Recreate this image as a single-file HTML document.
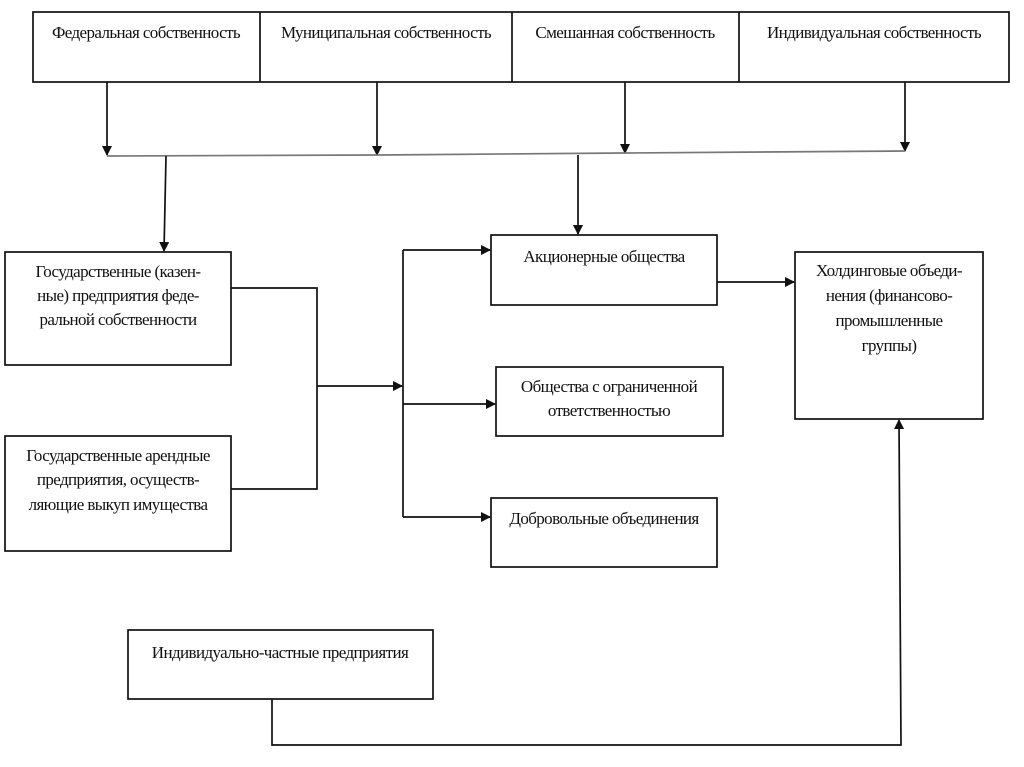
<!DOCTYPE html>
<html><head><meta charset="utf-8"><style>
html,body{margin:0;padding:0;background:#fff;width:1024px;height:767px;overflow:hidden}
svg text{font-family:"Liberation Serif",serif;font-size:17px;fill:#111;letter-spacing:-0.6px}
</style></head><body>
<svg width="1024" height="767" viewBox="0 0 1024 767" xmlns="http://www.w3.org/2000/svg">
<defs><marker id="a" markerWidth="10" markerHeight="10" refX="9" refY="5" orient="auto" markerUnits="userSpaceOnUse"><path d="M0,0 L10,5 L0,10 z" fill="#111"/></marker></defs>
<g fill="none" stroke="#111" stroke-width="1.7">
<rect x="33" y="12" width="976" height="70"/>
<line x1="260" y1="12" x2="260" y2="82"/>
<line x1="512" y1="12" x2="512" y2="82"/>
<line x1="739" y1="12" x2="739" y2="82"/>
<rect x="5" y="252" width="226" height="113"/>
<rect x="5" y="436" width="226" height="115"/>
<rect x="491" y="235" width="226" height="70"/>
<rect x="496" y="367" width="227" height="69"/>
<rect x="491" y="498" width="226" height="69"/>
<rect x="795" y="252" width="188" height="167"/>
<rect x="128" y="630" width="305" height="69"/>
<line x1="107" y1="82" x2="107" y2="155" marker-end="url(#a)"/>
<line x1="377" y1="82" x2="377" y2="155" marker-end="url(#a)"/>
<line x1="625" y1="82" x2="625" y2="153" marker-end="url(#a)"/>
<line x1="905" y1="82" x2="905" y2="151" marker-end="url(#a)"/>
<polyline points="107,156 377,155 625,153 905,151" stroke="#777"/>
<line x1="166" y1="156" x2="164" y2="251" marker-end="url(#a)"/>
<line x1="578" y1="155" x2="578" y2="234" marker-end="url(#a)"/>
<polyline points="231,288 317,288 317,489 231,489"/>
<line x1="317" y1="386" x2="402" y2="386" marker-end="url(#a)"/>
<line x1="403" y1="250" x2="403" y2="517"/>
<line x1="403" y1="250" x2="490" y2="250" marker-end="url(#a)"/>
<line x1="403" y1="404" x2="495" y2="404" marker-end="url(#a)"/>
<line x1="403" y1="517" x2="490" y2="517" marker-end="url(#a)"/>
<line x1="717" y1="282" x2="794" y2="282" marker-end="url(#a)"/>
<polyline points="272,699 272,745 901,745 899,420" marker-end="url(#a)"/>
</g>
<g text-anchor="middle">
<text x="146" y="38">Федеральная собственность</text>
<text x="386" y="38">Муниципальная собственность</text>
<text x="625" y="38">Смешанная собственность</text>
<text x="874" y="38">Индивидуальная собственность</text>
<text x="118" y="277">Государственные (казен-</text>
<text x="118" y="301">ные) предприятия феде-</text>
<text x="118" y="325">ральной собственности</text>
<text x="118" y="461">Государственные арендные</text>
<text x="118" y="485">предприятия, осуществ-</text>
<text x="118" y="510">ляющие выкуп имущества</text>
<text x="604" y="262">Акционерные общества</text>
<text x="609" y="392">Общества с ограниченной</text>
<text x="609" y="416">ответственностью</text>
<text x="604" y="524">Добровольные объединения</text>
<text x="889" y="276">Холдинговые объеди-</text>
<text x="889" y="301">нения (финансово-</text>
<text x="889" y="326">промышленные</text>
<text x="889" y="351">группы)</text>
<text x="280" y="658">Индивидуально-частные предприятия</text>
</g>
</svg>
</body></html>
